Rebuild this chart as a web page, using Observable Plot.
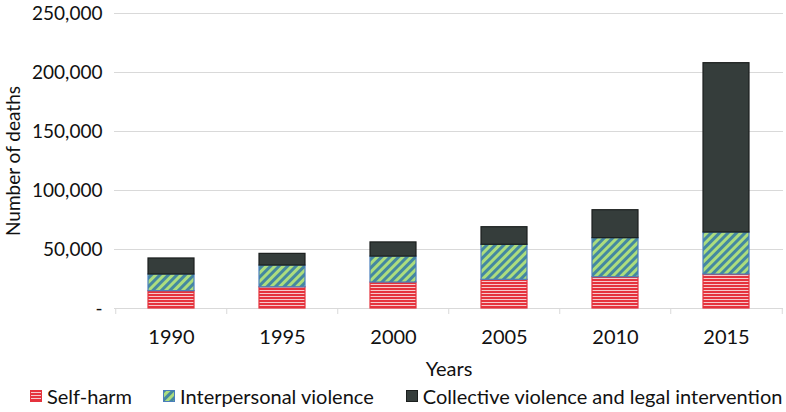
<!DOCTYPE html>
<html>
<head>
<meta charset="utf-8">
<script src="https://cdn.jsdelivr.net/npm/d3@7"></script>
<script src="https://cdn.jsdelivr.net/npm/@observablehq/plot@0.6"></script>
<style>
  html, body { margin: 0; padding: 0; background: #fff; }
  body { width: 786px; height: 412px; overflow: hidden; font-family: Lato, "Open Sans", sans-serif; }
  #chart svg { display: block; }
  #legend { display: flex; align-items: center; height: 32px; padding-left: 30px; font-size: 20px; color: #111; }
  .item { display: flex; align-items: center; }
  .sw { width: 12px; height: 12px; margin-right: 5px; }
  .sw svg { display: block; }
</style>
</head>
<body>
<svg width="0" height="0" style="position:absolute">
  <defs>
    <pattern id="pSelf" patternUnits="userSpaceOnUse" width="8" height="3">
      <rect width="8" height="3" fill="#f6c9cc"></rect>
      <rect y="0" width="8" height="2" fill="#e5333d"></rect>
    </pattern>
    <pattern id="pInter" patternUnits="userSpaceOnUse" width="6" height="6" patternTransform="rotate(45)">
      <rect width="6" height="6" fill="#acdd7e"></rect>
      <rect width="3" height="6" fill="#4488a0"></rect>
    </pattern>
  </defs>
</svg>
<div id="chart"></div>
<div id="legend"></div>
<script>
const years = ["1990", "1995", "2000", "2005", "2010", "2015"];
const seriesNames = ["Self-harm", "Interpersonal violence", "Collective violence and legal intervention"];
const selfHarm = [14700, 18000, 22000, 24300, 26500, 28800];
const interpersonal = [14100, 18400, 22000, 29700, 33100, 35600];
const collective = [13600, 9900, 12000, 14900, 23700, 143500];
const yTicks = [0, 50000, 100000, 150000, 200000, 250000];

const fills = {"Self-harm": "url(#pSelf)", "Interpersonal violence": "url(#pInter)", "Collective violence and legal intervention": "#353d3b"};
const strokes = {"Self-harm": "#e5333d", "Interpersonal violence": "#4a7ebb", "Collective violence and legal intervention": "#1b1f1e"};

const seriesValues = [selfHarm, interpersonal, collective];
const data = [];
seriesNames.forEach((s, i) => years.forEach((y, j) => data.push({year: y, series: s, value: seriesValues[i][j]})));

const step = (786 - 114 - 3) / years.length;

const chart = Plot.plot({
  width: 786,
  height: 380,
  marginLeft: 114,
  marginRight: 3,
  marginTop: 13,
  marginBottom: 72,
  style: {fontFamily: "Lato, 'Open Sans', sans-serif", fontSize: "19px", color: "#111", background: "#fff"},
  x: {domain: years, paddingInner: 0.59, paddingOuter: 0.295},
  y: {domain: [0, 250000]},
  color: {type: "identity"},
  marks: [
    Plot.ruleY(yTicks, {stroke: "#d9d9d9", strokeWidth: 1}),
    Plot.ruleX(years, {x: d => d, y1: 0, y2: 0, insetBottom: -6, dx: -step / 2, stroke: "#d9d9d9"}),
    Plot.ruleX(years.slice(-1), {x: d => d, y1: 0, y2: 0, insetBottom: -6, dx: step / 2, stroke: "#d9d9d9"}),
    Plot.barY(data, Plot.stackY({x: "year", y: "value", fill: d => fills[d.series], stroke: d => strokes[d.series], strokeWidth: 1.2, order: null})),
    Plot.axisY({ticks: yTicks, tickSize: 0, tickPadding: 12, tickFormat: d => d === 0 ? "-" : d3.format(",")(d), label: "Number of deaths", labelArrow: "none", labelAnchor: "center", labelOffset: 108, fontSize: 19}),
    Plot.axisX({tickSize: 0, tickPadding: 21, label: "Years", labelArrow: "none", labelAnchor: "center", labelOffset: 67, fontSize: 20})
  ]
});
document.getElementById("chart").appendChild(chart);

const legend = document.getElementById("legend");
const gaps = [31, 32, 0];
seriesNames.forEach((s, i) => {
  const it = document.createElement("div");
  it.className = "item";
  it.style.marginRight = gaps[i] + "px";
  const sw = document.createElement("div");
  sw.className = "sw";
  sw.innerHTML = `<svg width="12" height="12"><rect x="0.5" y="0.5" width="11" height="11" fill="${fills[s]}" stroke="${strokes[s]}"/></svg>`;
  const tx = document.createElement("span");
  tx.textContent = s;
  it.appendChild(sw);
  it.appendChild(tx);
  legend.appendChild(it);
});
</script>
</body>
</html>
